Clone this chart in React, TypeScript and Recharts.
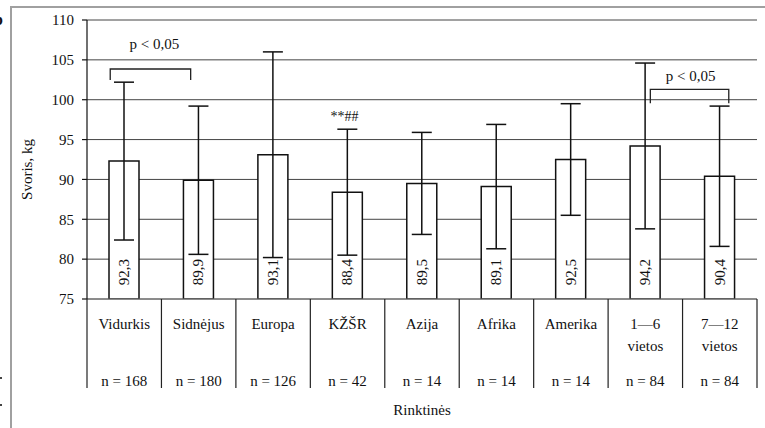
import React from 'react';
import {
  ComposedChart,
  Bar,
  ErrorBar,
  XAxis,
  YAxis,
  CartesianGrid,
  LabelList,
  ReferenceLine,
  ReferenceDot,
  Label,
} from 'recharts';

// Body weight of national rowing teams (mean ± SD)
const teams = ['Vidurkis', 'Sidnėjus', 'Europa', 'KŽŠR', 'Azija', 'Afrika', 'Amerika', '1—6', '7—12'];
const teamSubLabels = ['', '', '', '', '', '', '', 'vietos', 'vietos'];
const sampleSizes = [168, 180, 126, 42, 14, 14, 14, 84, 84];
const meanWeight = [92.3, 89.9, 93.1, 88.4, 89.5, 89.1, 92.5, 94.2, 90.4];
const sdWeight = [9.9, 9.3, 12.9, 7.9, 6.4, 7.8, 7.0, 10.4, 8.8];
const yTicks = [75, 80, 85, 90, 95, 100, 105, 110];

// Significance brackets between groups
const bracketFrom = ['Vidurkis', '1—6'];
const bracketTo = ['Sidnėjus', '7—12'];
const bracketLevel = [103.85, 101.3];
const bracketText = ['p < 0,05', 'p < 0,05'];

// Marker over the KŽŠR group
const markTeam = 'KŽŠR';
const markLevel = 97.9;
const markText = '**##';

const data = teams.map((team, i) => ({
  team,
  sub: teamSubLabels[i],
  n: sampleSizes[i],
  mean: meanWeight[i],
  sd: sdWeight[i],
}));

const W = 765;
const H = 428;
const MARGIN = { top: 20, right: 8, left: 0, bottom: 0 };
const Y_AXIS_W = 87;
const X_AXIS_H = 129;
const PLOT_W = W - MARGIN.left - MARGIN.right - Y_AXIS_W;
const BAND = PLOT_W / teams.length;

const FONT = 'Liberation Serif';
const TEXT = '#111';
const textStyle = { fontFamily: FONT, fontSize: 15 };

const fmt = (v: number) => v.toFixed(1).replace('.', ',');

// Category table under the plot: name, optional second line, sample size, separators
const CategoryTick = (props: any) => {
  const { x, y, index } = props;
  const i = index ?? props.payload?.index ?? 0;
  const left = x - BAND / 2;
  const right = x + BAND / 2;
  const sepBottom = y + 89;
  return (
    <g>
      <line x1={left} y1={y} x2={left} y2={sepBottom} stroke="#222" strokeWidth={1.2} />
      {i === teams.length - 1 && (
        <line x1={right} y1={y} x2={right} y2={sepBottom} stroke="#222" strokeWidth={1.2} />
      )}
      <text x={x} y={y + 30} textAnchor="middle" fontFamily={FONT} style={textStyle} fill={TEXT}>
        {teams[i]}
      </text>
      {teamSubLabels[i] && (
        <text x={x} y={y + 52} textAnchor="middle" fontFamily={FONT} style={textStyle} fill={TEXT}>
          {teamSubLabels[i]}
        </text>
      )}
      <text x={x} y={y + 87} textAnchor="middle" fontFamily={FONT} style={textStyle} fill={TEXT}>
        {`n = ${sampleSizes[i]}`}
      </text>
    </g>
  );
};

const ValueLabel = (props: any) => {
  const { x, y, width, height, value } = props;
  const cx = x + width / 2;
  const cy = y + height - 27;
  return (
    <text
      x={cx}
      y={cy}
      transform={`rotate(-90, ${cx}, ${cy})`}
      textAnchor="middle"
      dominantBaseline="central"
      fontFamily={FONT}
      style={textStyle}
      fill={TEXT}
    >
      {fmt(Number(value))}
    </text>
  );
};

// Bracket geometry (pixel offsets from band centres)
const bracketStyle = [
  { dl: -14, dr: -8, leg: 11, textDx: 4, textDy: -20 },
  { dl: 5, dr: 9, leg: 14, textDx: 1, textDy: -8 },
];

const makeBracket = (k: number) => (p: any) => {
  const { x1, y1, x2 } = p;
  const s = bracketStyle[k];
  const xl = x1 + s.dl;
  const xr = x2 + s.dr;
  return (
    <g>
      <path
        d={`M${xl},${y1 + s.leg} L${xl},${y1} L${xr},${y1} L${xr},${y1 + s.leg}`}
        fill="none"
        stroke="#222"
        strokeWidth={1.3}
      />
      <text
        x={(xl + xr) / 2 + s.textDx}
        y={y1 + s.textDy}
        textAnchor="middle"
        fontFamily={FONT}
        style={textStyle}
        fill={TEXT}
      >
        {bracketText[k]}
      </text>
    </g>
  );
};

const MarkShape = (p: any) => (
  <text
    x={p.cx - 3}
    y={p.cy + 5}
    textAnchor="middle"
    fontFamily={FONT}
    style={{ fontFamily: FONT, fontSize: 14 }}
    fill={TEXT}
  >
    {markText}
  </text>
);

export default function App() {
  return (
    <div
      style={{
        position: 'absolute',
        left: 0,
        top: 0,
        width: W,
        height: H,
        overflow: 'hidden',
        background: '#fff',
        fontFamily: FONT,
      }}
    >
      <div
        style={{
          position: 'absolute',
          left: 10,
          top: 6,
          width: W - 10,
          height: H - 6,
          borderLeft: '2px solid #a0a0a0',
          borderTop: '2px solid #a0a0a0',
          boxSizing: 'border-box',
        }}
      />
      <div
        style={{
          position: 'absolute',
          left: -6,
          top: 10,
          fontFamily: FONT,
          fontWeight: 'bold',
          fontSize: 16,
          color: '#111',
          lineHeight: '20px',
        }}
      >
        b
      </div>
      <div style={{ position: 'absolute', left: 0, top: 377, width: 2, height: 2, background: '#444' }} />
      <div style={{ position: 'absolute', left: 0, top: 404, width: 2, height: 2, background: '#444' }} />
      <div style={{ position: 'absolute', left: 0, top: 0 }}>
        <ComposedChart
          width={W}
          height={H}
          data={data}
          margin={MARGIN}
          barCategoryGap={0}
          style={{ fontFamily: FONT }}
        >
          <CartesianGrid horizontal vertical={false} stroke="#444" strokeWidth={1} />
          <XAxis
            dataKey="team"
            height={X_AXIS_H}
            interval={0}
            tickLine={false}
            tickSize={0}
            tickMargin={0}
            axisLine={{ stroke: '#777', strokeWidth: 1 }}
            tick={<CategoryTick />}
          >
            <Label
              content={(lp: any) => {
                const vb = lp.viewBox || {};
                return (
                  <text
                    x={vb.x + vb.width / 2}
                    y={vb.y + 116}
                    textAnchor="middle"
                    fontFamily={FONT}
                    style={textStyle}
                    fill={TEXT}
                  >
                    Rinktinės
                  </text>
                );
              }}
            />
          </XAxis>
          <YAxis
            width={Y_AXIS_W}
            domain={[75, 110]}
            ticks={yTicks}
            interval={0}
            allowDataOverflow
            tickSize={5}
            tickMargin={8}
            axisLine={{ stroke: '#111', strokeWidth: 1.2 }}
            tickLine={{ stroke: '#111', strokeWidth: 1.2 }}
            tick={{ fontSize: 15, fontFamily: FONT, fill: TEXT, style: textStyle }}
          >
            <Label
              content={(lp: any) => {
                const vb = lp.viewBox || {};
                const cx = 27;
                const cy = vb.y + vb.height / 2 + 10;
                return (
                  <text
                    x={cx}
                    y={cy}
                    transform={`rotate(-90, ${cx}, ${cy})`}
                    textAnchor="middle"
                    dominantBaseline="central"
                    fontFamily={FONT}
                    style={textStyle}
                    fill={TEXT}
                  >
                    Svoris, kg
                  </text>
                );
              }}
            />
          </YAxis>
          <Bar dataKey="mean" fill="#fff" stroke="#111" strokeWidth={1.5} barSize={30} isAnimationActive={false}>
            <ErrorBar dataKey="sd" width={10} stroke="#111" strokeWidth={1.5} direction="y" />
            <LabelList dataKey="mean" content={<ValueLabel />} />
          </Bar>
          {bracketFrom.map((from, k) => (
            <ReferenceLine
              key={k}
              segment={[
                { x: from, y: bracketLevel[k] },
                { x: bracketTo[k], y: bracketLevel[k] },
              ]}
              ifOverflow="visible"
              shape={makeBracket(k)}
            />
          ))}
          <ReferenceDot x={markTeam} y={markLevel} r={0} ifOverflow="visible" shape={MarkShape} />
        </ComposedChart>
      </div>
    </div>
  );
}
